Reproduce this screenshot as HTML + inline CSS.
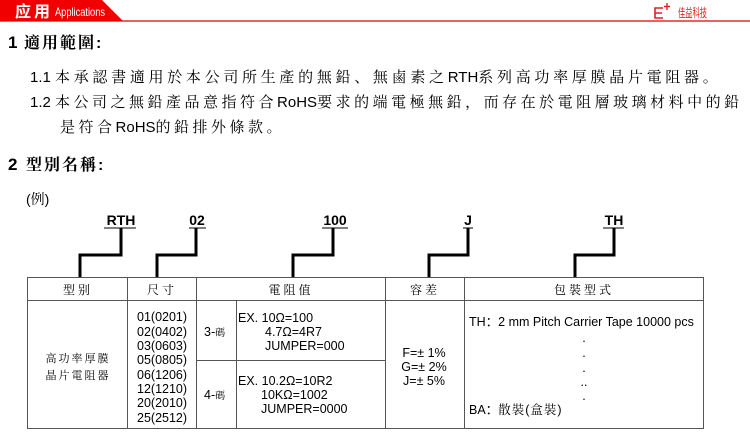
<!DOCTYPE html>
<html><head><meta charset="utf-8"><style>
html,body{margin:0;padding:0;background:#fff;width:750px;height:446px;overflow:hidden}
svg{display:block}
text{font-family:"Liberation Sans","Noto Sans CJK SC",sans-serif}
text.cjk,tspan.cjk,.cjk text{font-family:"Liberation Sans","Noto Serif CJK SC",serif}
</style></head><body>
<svg width="750" height="446" viewBox="0 0 750 446" xmlns="http://www.w3.org/2000/svg">
<polygon points="0,0 102,0 123,21 0,21" fill="#f00000"/>
<line x1="0" y1="21" x2="750" y2="21" stroke="#e00000" stroke-width="1.2"/>
<text x="15" y="17" fill="#fff" font-size="16" font-weight="bold" letter-spacing="3">应用</text>
<text x="55" y="16" fill="#fff" font-size="12" textLength="50" lengthAdjust="spacingAndGlyphs">Applications</text>
<path d="M663,8 H655 V18 H663 M655,13 H662" fill="none" stroke="#e02020" stroke-width="1.6"/>
<path d="M667,3 V10 M664,6.5 H670" stroke="#e02020" stroke-width="1.4"/>
<text x="678" y="17" fill="#e02020" font-size="12" textLength="29" lengthAdjust="spacingAndGlyphs">佳益科技</text>

<text x="8" y="48" font-size="17" font-weight="bold">1</text>
<text x="24" y="48" font-size="16" font-weight="bold" class="cjk" letter-spacing="2">適用範圍:</text>
<text x="30" y="82" font-size="15"><tspan>1.1 </tspan><tspan class="cjk" letter-spacing="3.7">本承認書適用於本公司所生產的無鉛、無鹵素之</tspan><tspan letter-spacing="0">RTH</tspan><tspan class="cjk" letter-spacing="3.7">系列高功率厚膜晶片電阻器。</tspan></text>
<text x="30" y="107" font-size="15"><tspan>1.2 </tspan><tspan class="cjk" letter-spacing="3.5">本公司之無鉛產品意指符合</tspan><tspan letter-spacing="0">RoHS</tspan><tspan class="cjk" letter-spacing="3.5">要求的端電極無鉛，而存在於電阻層玻璃材料中的鉛</tspan></text>
<text x="60" y="132" font-size="15"><tspan class="cjk" letter-spacing="3.5">是符合</tspan><tspan letter-spacing="0">RoHS</tspan><tspan class="cjk" letter-spacing="3.5">的鉛排外條款。</tspan></text>
<text x="8" y="170" font-size="17" font-weight="bold">2</text>
<text x="26" y="170" font-size="16" font-weight="bold" class="cjk" letter-spacing="2">型別名稱:</text>
<text x="26" y="204" font-size="14" class="cjk">(例)</text>

<g font-size="14" font-weight="bold" text-anchor="middle">
<text x="121" y="225">RTH</text><text x="197" y="225">02</text><text x="335" y="225">100</text><text x="468" y="225">J</text><text x="614" y="225">TH</text>
</g>
<g stroke="#000" stroke-width="1">
<line x1="104" y1="228" x2="136" y2="228"/><line x1="189" y1="228" x2="206" y2="228"/><line x1="322" y1="228" x2="348" y2="228"/><line x1="463" y1="228" x2="473" y2="228"/><line x1="603" y1="228" x2="624" y2="228"/>
</g>
<g fill="none" stroke="#000" stroke-width="3">
<polyline points="121,228 121,255 80,255 80,277"/>
<polyline points="196,228 196,255 157,255 157,277"/>
<polyline points="333,228 333,255 293,255 293,277"/>
<polyline points="468,228 468,255 429,255 429,277"/>
<polyline points="614,228 614,255 575,255 575,277"/>
</g>
<g fill="none" stroke="#555" stroke-width="1">
<rect x="27.5" y="277.5" width="676" height="151"/>
<line x1="27" y1="300.5" x2="704" y2="300.5"/>
<line x1="127.5" y1="277" x2="127.5" y2="429"/>
<line x1="196.5" y1="277" x2="196.5" y2="429"/>
<line x1="236.5" y1="300" x2="236.5" y2="429"/>
<line x1="385.5" y1="277" x2="385.5" y2="429"/>
<line x1="464.5" y1="277" x2="464.5" y2="429"/>
<line x1="196" y1="360.5" x2="385" y2="360.5"/>
</g>
<g font-size="12" class="cjk" text-anchor="middle" letter-spacing="3">
<text x="78" y="294">型别</text><text x="162" y="294">尺寸</text><text x="291" y="294">電阻值</text><text x="425" y="294">容差</text><text x="584" y="294">包裝型式</text>
<text x="78" y="362" font-size="11" letter-spacing="2">高功率厚膜</text><text x="78" y="379" font-size="11" letter-spacing="2">晶片電阻器</text>
</g>
<g font-size="12.5">
<text x="137" y="321">01(0201)</text><text x="137" y="336">02(0402)</text><text x="137" y="350">03(0603)</text><text x="137" y="364">05(0805)</text>
<text x="137" y="379">06(1206)</text><text x="137" y="393">12(1210)</text><text x="137" y="407">20(2010)</text><text x="137" y="422">25(2512)</text>
<text x="204" y="336">3-<tspan font-size="10" class="cjk">碼</tspan></text>
<text x="204" y="399">4-<tspan font-size="10" class="cjk">碼</tspan></text>
<text x="238" y="322">EX. 10Ω=100</text><text x="265" y="336">4.7Ω=4R7</text><text x="265" y="350">JUMPER=000</text>
<text x="238" y="385">EX. 10.2Ω=10R2</text><text x="261" y="399">10KΩ=1002</text><text x="261" y="413">JUMPER=0000</text>
<text x="424" y="357" text-anchor="middle">F=± 1%</text><text x="424" y="371" text-anchor="middle">G=± 2%</text><text x="424" y="385" text-anchor="middle">J=± 5%</text>
<text x="469" y="326">TH：2 mm Pitch Carrier Tape 10000 pcs</text>
<text x="584" y="342" text-anchor="middle">.</text><text x="584" y="357" text-anchor="middle">.</text><text x="584" y="372" text-anchor="middle">.</text><text x="584" y="386" text-anchor="middle">..</text><text x="584" y="400" text-anchor="middle">.</text>
<text x="469" y="414">BA：<tspan class="cjk" letter-spacing="1">散裝(盒裝)</tspan></text>
</g>
</svg>
</body></html>
